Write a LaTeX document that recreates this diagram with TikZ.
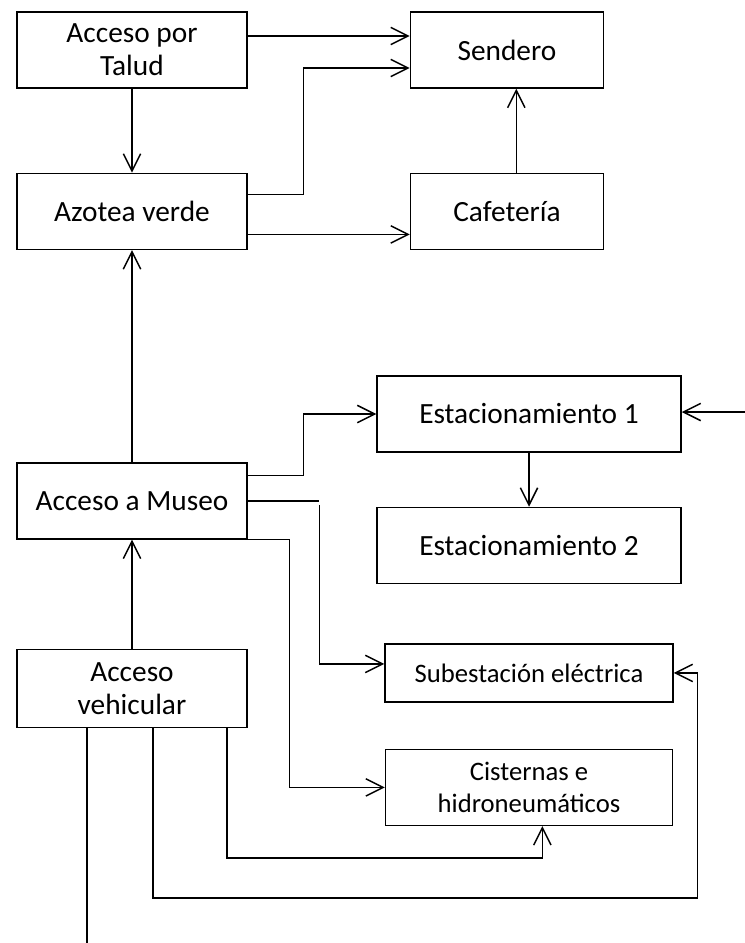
\documentclass[tikz,border=0pt]{standalone}
\usepackage{fontspec}
\setmainfont{Carlito}
\usetikzlibrary{arrows.meta,positioning}

\begin{document}
\begin{tikzpicture}[
    node distance=63pt and 121.5pt,
    box/.style={draw, line width=1.1pt, minimum height=57pt, minimum width=#1, inner sep=2pt, align=center, font=\fontsize{22}{25}\selectfont},
    box/.default=172.5pt,
    smallbox/.style={box=#1, font=\fontsize{20}{23.5}\selectfont},
    arrow/.style={-{Straight Barb[length=13pt, width=13pt]}, line width=1.1pt},
    line/.style={line width=1.1pt},
]
    \useasboundingbox (0,0) rectangle (558.75pt,-707.25pt);

    \node[box] (talud) at (99pt,-37.5pt) {Acceso por\\Talud};
    \node[box=144.75pt, right=121.5pt of talud] (sendero) {Sendero};
    \node[box, below=of talud] (azotea) {Azotea verde};
    \node[box=144.75pt, below=of sendero] (cafe) {Cafetería};
    \node[box, below=159pt of azotea] (museo) {Acceso a Museo};
    \node[box, minimum height=58.5pt, below=81.75pt of museo] (vehic) {Acceso\\vehicular};

    \node[box=228pt] (est1) at (396.75pt,-310.5pt) {Estacionamiento 1};
    \node[box=228pt, below=40.5pt of est1] (est2) {Estacionamiento 2};
    \node[smallbox=216pt, minimum height=43.5pt, below=44.25pt of est2] (subest) {Subestación eléctrica};
    \node[smallbox=215.25pt, below=34.5pt of subest] (cist) {Cisternas e\\hidroneumáticos};

    \coordinate (borde) at (558.75pt,-309pt);
    \coordinate (salida) at (0,-707.25pt);

    % parte alta
    \draw[arrow] ([yshift=10.5pt]talud.east) -- ([yshift=10.5pt]talud.east -| sendero.west);
    \draw[arrow] (talud) -- (azotea);
    \draw[arrow] ([yshift=12.75pt]azotea.east) -- ++(42pt,0) |- ([yshift=-13.5pt]sendero.west);
    \draw[arrow] ([yshift=-17.25pt]azotea.east) -- ([yshift=-17.25pt]azotea.east -| cafe.west);
    \draw[arrow] ([xshift=7pt]cafe.north) -- ([xshift=7pt]sendero.south);

    % museo y estacionamientos
    \draw[arrow] (museo) -- (azotea);
    \draw[arrow] ([yshift=19pt]museo.east) -- ++(42pt,0) |- (est1.west);
    \draw[arrow] (borde) -- (borde -| est1.east);
    \draw[arrow] (est1) -- (est2);
    \draw[line] (museo.east) -- ++(53.25pt,0);
    \draw[arrow] ([shift={(54pt,-3pt)}]museo.east) |- ([yshift=6.75pt]subest.west);
    \draw[arrow] (museo.south east) -- ++(31.5pt,0) |- (cist.west);

    % acceso vehicular
    \draw[arrow] (vehic) -- (museo);
    \draw[arrow] ([xshift=71.25pt]vehic.south) -- ++(0,-97.5pt) -| ([xshift=10pt]cist.south);
    \draw[arrow] ([xshift=15.75pt]vehic.south) -- ++(0,-127.5pt) -| ([xshift=18pt]subest.east) -- (subest.east);
    \draw[line] ([xshift=-33.75pt]vehic.south) -- ([xshift=-33.75pt]vehic.south |- salida);
\end{tikzpicture}
\end{document}
